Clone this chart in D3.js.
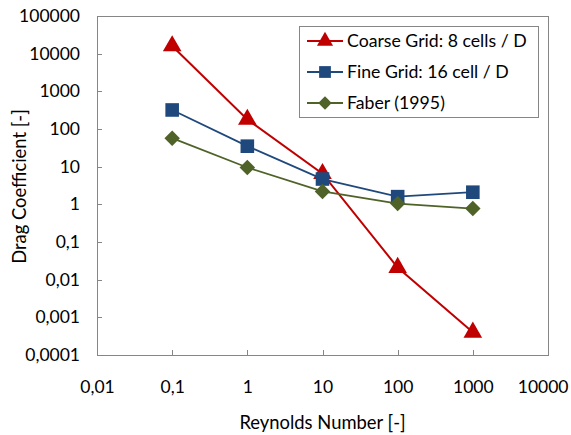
<!DOCTYPE html>
<html><head><meta charset="utf-8">
<script src="https://cdn.jsdelivr.net/npm/d3@7"></script>
<style>body{margin:0;background:#fff}svg{display:block}text{font-family:Lato,"Open Sans",sans-serif;fill:#000}</style>
</head><body><svg id="c" width="571" height="435"></svg>
<script>
const xValues = [0.1, 1, 10, 100, 1000];
const coarse = [16000, 180, 6.5, 0.021, 0.0004];
const fine = [320, 35, 4.7, 1.6, 2.1];
const faber = [57, 9.5, 2.2, 1.05, 0.77];
const seriesNames = ["Coarse Grid: 8 cells / D", "Fine Grid: 16 cell / D", "Faber (1995)"];
const xTicks = [0.01, 0.1, 1, 10, 100, 1000, 10000];
const yTicks = [0.0001, 0.001, 0.01, 0.1, 1, 10, 100, 1000, 10000, 100000];
const xTitle = "Reynolds Number [-]";
const yTitle = "Drag Coefficient [-]";

const fmt = v => String(v).replace(".", ",");
const svg = d3.select("#c");
const L = 97, R = 548, T = 16, B = 355;
const x = d3.scaleLog().domain([0.01, 10000]).range([L, R]);
const y = d3.scaleLog().domain([0.0001, 100000]).range([B, T]);
const axisCol = "#868686";

svg.append("rect").attr("x", L).attr("y", T).attr("width", R - L).attr("height", B - T)
  .attr("fill", "none").attr("stroke", axisCol).attr("stroke-width", 1).attr("shape-rendering", "crispEdges");

const xa = svg.append("g").attr("transform", `translate(0,${B})`)
  .call(d3.axisBottom(x).tickValues(xTicks).tickFormat(fmt).tickSizeInner(-5).tickSizeOuter(0).tickPadding(25));
const ya = svg.append("g").attr("transform", `translate(${L},0)`)
  .call(d3.axisLeft(y).tickValues(yTicks).tickFormat(fmt).tickSizeInner(-5).tickSizeOuter(0).tickPadding(17));
[xa, ya].forEach(a => {
  a.select(".domain").attr("stroke", axisCol);
  a.selectAll(".tick line").attr("stroke", axisCol).attr("shape-rendering", "crispEdges");
  a.selectAll(".tick text").attr("font-size", 17.5).attr("font-family", "Lato,sans-serif").attr("fill", "#000");
});
xa.selectAll(".tick text").attr("dy", "0.35em").attr("y", 32);
xa.selectAll(".tick text").filter(d => d === xTicks[xTicks.length - 1])
  .attr("text-anchor", "end").attr("x", 20);

svg.append("text").attr("x", (L + R) / 2).attr("y", 423).attr("dy", "0.35em").attr("text-anchor", "middle")
  .attr("font-size", 18.4).text(xTitle);
svg.append("text").attr("transform", `translate(20,${(T + B) / 2 + 1}) rotate(-90)`).attr("dy", "0.35em").attr("text-anchor", "middle")
  .attr("font-size", 18.4).text(yTitle);

const diamond = {draw(ctx, size) { const r = Math.sqrt(size / 2); ctx.moveTo(0, -r); ctx.lineTo(r, 0); ctx.lineTo(0, r); ctx.lineTo(-r, 0); ctx.closePath(); }};
const series = [
  {name: seriesNames[0], vals: coarse, color: "#C00000", sym: d3.symbolTriangle, size: 150, w: 2},
  {name: seriesNames[1], vals: fine, color: "#1F497D", sym: d3.symbolSquare, size: 185, w: 1.8},
  {name: seriesNames[2], vals: faber, color: "#4F6228", sym: diamond, size: 120, w: 1.8}
];
const line = d3.line().x(d => x(d[0])).y(d => y(d[1]));
[0, 1, 2].forEach(i => {
  const s = series[i];
  const pts = xValues.map((v, j) => [v, s.vals[j]]);
  svg.append("path").attr("d", line(pts)).attr("fill", "none").attr("stroke", s.color).attr("stroke-width", s.w);
  svg.selectAll(null).data(pts).enter().append("path")
    .attr("d", d3.symbol().type(s.sym).size(s.size))
    .attr("transform", d => `translate(${x(d[0])},${y(d[1])})`).attr("fill", s.color);
});

const lg = svg.append("g");
lg.append("rect").attr("x", 299.5).attr("y", 26.5).attr("width", 239).attr("height", 91)
  .attr("fill", "#fff").attr("stroke", axisCol);
series.forEach((s, i) => {
  const cy = 41 + i * 31;
  lg.append("line").attr("x1", 307).attr("x2", 343).attr("y1", cy).attr("y2", cy).attr("stroke", s.color).attr("stroke-width", s.w);
  lg.append("path").attr("d", d3.symbol().type(s.sym).size(s.size * 0.75)).attr("transform", `translate(325,${cy})`).attr("fill", s.color);
  lg.append("text").attr("x", 347).attr("y", cy).attr("dy", "0.35em").attr("font-size", 17.7).text(s.name);
});
</script></body></html>
